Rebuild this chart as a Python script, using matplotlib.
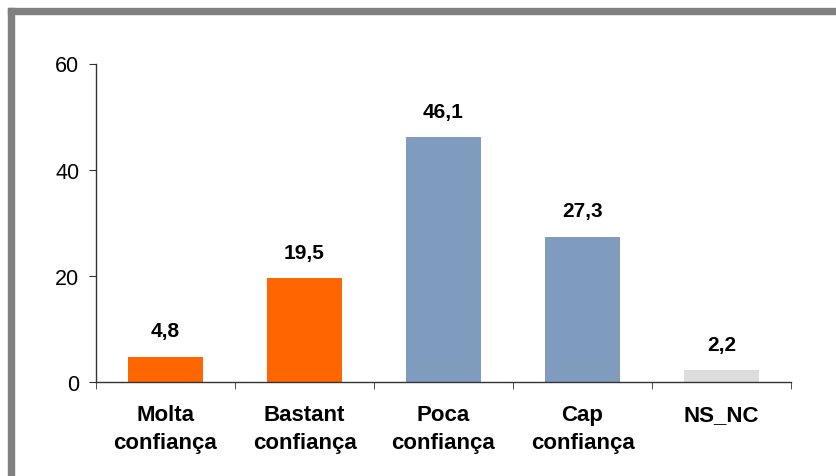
import matplotlib.pyplot as plt
from matplotlib.patches import Rectangle
import numpy as np

plt.rcParams['font.family'] = ['Liberation Sans', 'DejaVu Sans']

# data
categories = ["Molta\nconfiança", "Bastant\nconfiança", "Poca\nconfiança",
              "Cap\nconfiança", "NS_NC"]
values = [4.8, 19.5, 46.1, 27.3, 2.2]
value_labels = ["4,8", "19,5", "46,1", "27,3", "2,2"]
colors = ["#FF6600", "#FF6600", "#7F9BBE", "#7F9BBE", "#DDDDDD"]
yticks = [0, 20, 40, 60]

fig = plt.figure(figsize=(8.36, 4.77), dpi=100)
ax = fig.add_axes([96 / 836, 94 / 477, 695 / 836, 318.5 / 477])

x = np.arange(len(categories))
ax.bar(x, values, width=0.545, color=colors)

for xi, v, lab in zip(x, values, value_labels):
    ax.annotate(lab, (xi, v), xytext=(0, 12), textcoords='offset points',
                ha='center', va='bottom', fontsize=15, fontweight='bold')

ax.set_xlim(-0.5, len(categories) - 0.5)
ax.set_ylim(0, 60)
ax.set_yticks(yticks)
ax.set_xticks(x)
ax.set_xticklabels(categories, fontsize=16, fontweight='bold', linespacing=1.4)
ax.set_xticks(np.arange(-0.5, len(categories)), minor=True)
ax.tick_params(axis='x', which='major', length=0, pad=16)
ax.tick_params(axis='x', which='minor', length=5, direction='out', color='#333333')
ax.tick_params(axis='y', length=5, direction='out', color='#333333',
               labelsize=15.5, pad=7)

for s in ['top', 'right']:
    ax.spines[s].set_visible(False)
for s in ['left', 'bottom']:
    ax.spines[s].set_color('#333333')
    ax.spines[s].set_linewidth(1.0)

# gray frame on top and left side
border = '#808080'
fig.patches.append(Rectangle((8 / 836, 1 - 15 / 477), 1, 6 / 477,
                             transform=fig.transFigure, color=border, zorder=0))
fig.patches.append(Rectangle((8 / 836, 0), 6 / 836, 1 - 9 / 477,
                             transform=fig.transFigure, color=border, zorder=0))

fig.savefig('out.png', dpi=100)
